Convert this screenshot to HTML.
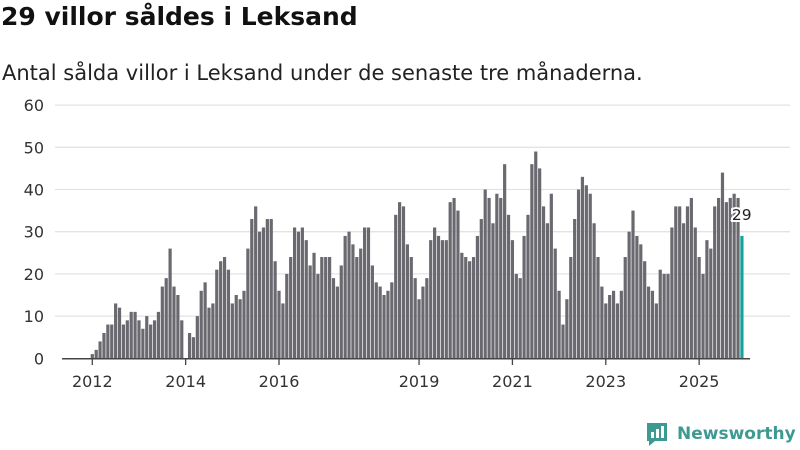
<!DOCTYPE html>
<html><head><meta charset="utf-8">
<style>
body{margin:0;width:800px;height:450px;background:#fff;font-family:"DejaVu Sans",sans-serif;overflow:hidden;position:relative}
h1{position:absolute;left:1px;top:2px;margin:0;font-size:25px;font-weight:bold;color:#111}
.sub{position:absolute;left:2px;top:61px;font-size:21px;color:#222}
svg{position:absolute;left:0;top:0}
.logo{position:absolute;left:645px;top:421px;font-size:17px;font-weight:bold;color:#3d9a92;display:flex;align-items:center}
</style></head><body>
<h1>29 villor såldes i Leksand</h1>
<div class="sub">Antal sålda villor i Leksand under de senaste tre månaderna.</div>
<svg id="chart" width="800" height="450"></svg>
<div class="logo"><svg width="24" height="26" viewBox="0 0 24 26" style="position:static;margin-right:8px"><path d="M2 2h20v18H10l-6 5v-5H2z" fill="#3d9a92"/><rect x="6" y="11" width="3" height="6" fill="#fff"/><rect x="11" y="8" width="3" height="9" fill="#fff"/><rect x="16" y="5" width="3" height="12" fill="#fff"/></svg>Newsworthy</div>
<script>
const values=[1,2,4,6,8,8,13,12,8,9,11,11,
9,7,10,8,9,11,17,19,26,17,15,9,
0,6,5,10,16,18,12,13,21,23,24,21,
13,15,14,16,26,33,36,30,31,33,33,23,
16,13,20,24,31,30,31,28,22,25,20,24,
24,24,19,17,22,29,30,27,24,26,31,31,
22,18,17,15,16,18,34,37,36,27,24,19,
14,17,19,28,31,29,28,28,37,38,35,25,
24,23,24,29,33,40,38,32,39,38,46,34,
28,20,19,29,34,46,49,45,36,32,39,26,
16,8,14,24,33,40,43,41,39,32,24,17,
13,15,16,13,16,24,30,35,29,27,23,17,
16,13,21,20,20,31,36,36,32,36,38,31,
24,20,28,26,36,38,44,37,38,39,38,29];
const yTicks=[0,10,20,30,40,50,60];
const yearLabels=["2012","2014","2016","2019","2021","2023","2025"];
const yearIdx=[0,24,48,84,108,132,156];
const lastLabel="29";
const svg=document.getElementById('chart');const NS='http://www.w3.org/2000/svg';
const y=v=>358.3-v*4.22;const x=i=>92.3+i*3.89;
const FF='DejaVu Sans, sans-serif';
function mk(t,a){const e=document.createElementNS(NS,t);for(const k in a)e.setAttribute(k,a[k]);svg.appendChild(e);return e;}
yTicks.forEach(t=>{
 if(t>0){const g=mk('line',{x1:55,x2:790,y1:y(t),y2:y(t),stroke:'#e3e3e3','stroke-width':1.3});
 
 }
 const l=mk('text',{x:44,y:y(t)+6,'text-anchor':'end','font-size':16,fill:'#333','font-family':FF});l.textContent=t;
 
 
});
values.forEach((v,i)=>{
 const last=i===values.length-1;
 const r=mk('rect',{x:x(i)-1.6,y:y(v),width:3.2,height:Math.max(0,358.3-y(v)),fill:last?'#13a39a':'#6a696f'});
 
 
});
const base=mk('line',{x1:62,x2:750,y1:358.8,y2:358.8,stroke:'#444','stroke-width':1.5});


yearIdx.forEach((idx,k)=>{
 const tk=mk('line',{x1:x(idx),x2:x(idx),y1:359,y2:365,stroke:'#444','stroke-width':1.3});
 
 
 const t=mk('text',{x:x(idx),y:387,'text-anchor':'middle','font-size':16,fill:'#333','font-family':FF});t.textContent=yearLabels[k];
 
 
});
const li=values.length-1;
const lab=mk('text',{x:x(li)-10,y:y(values[li])-16,'font-size':15.5,fill:'#222',stroke:'#fff','stroke-width':4,'paint-order':'stroke','font-family':FF});lab.textContent=lastLabel;


</script>
</body></html>
